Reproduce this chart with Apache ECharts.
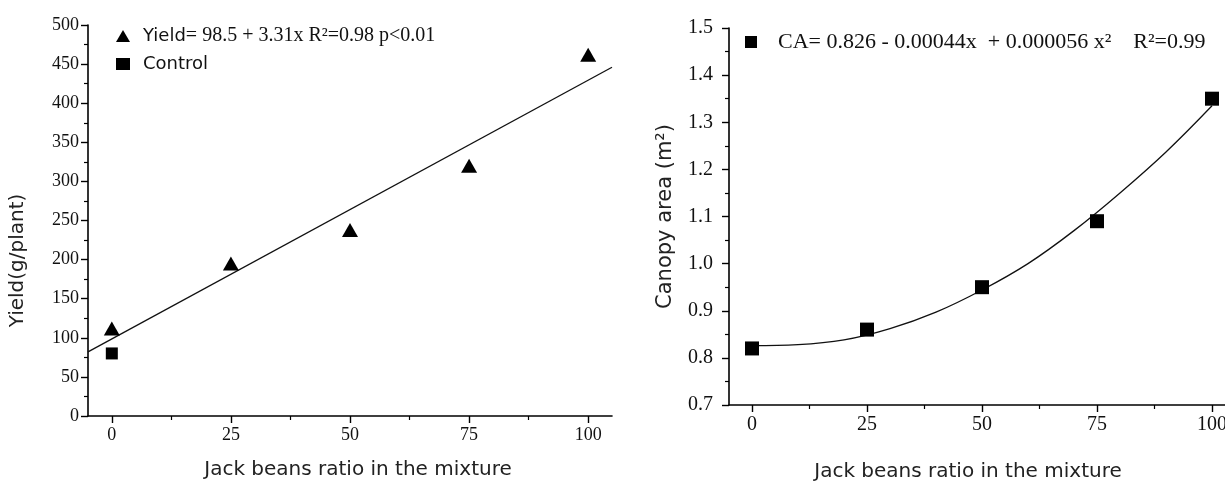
<!DOCTYPE html>
<html>
<head>
<meta charset="utf-8">
<script src="https://cdn.jsdelivr.net/npm/echarts@6/dist/echarts.min.js"></script>
<style>
  html, body { margin: 0; padding: 0; background: #fff; }
  #chart { width: 1225px; height: 482px; }
</style>
</head>
<body>
<div id="chart"></div>
<script>
// jack bean ratio (%)
var ratio = [0, 25, 50, 75, 100];
var xTicks = [0, 25, 50, 75, 100];
var xMinorTicks = [12.5, 37.5, 62.5, 87.5];

// left panel: yield (g/plant)
var yieldVals = [112, 195, 238, 320, 462];
var controlVals = [80];
var yieldFitX = [-5, 105];
var yieldFitY = [82, 446];

// right panel: canopy area (m2)
var canopyVals = [0.82, 0.86, 0.95, 1.09, 1.35];
var canopyFitX = [0, 10, 20, 30, 40, 50, 60, 70, 80, 90, 100];
var canopyFitY = [0.826, 0.828, 0.838, 0.862, 0.897, 0.944, 1.0, 1.07, 1.15, 1.237, 1.335];

var yieldName = 'Yield= 98.5 + 3.31x R\u00b2=0.98 p<0.01';
var controlName = 'Control';
var canopyName = 'CA= 0.826 - 0.00044x  + 0.000056 x\u00b2    R\u00b2=0.99';

function pairs(xs, ys) {
    return xs.map(function (x, i) { return [x, ys[i]]; });
}

var sans = 'DejaVu Sans';
var serif = 'Liberation Serif';

function mainX(grid, gap, labelSize, pad) {
    return {
        type: 'value', gridIndex: grid, min: -5, max: 105, position: 'bottom',
        name: 'Jack beans ratio in the mixture', nameLocation: 'middle', nameGap: gap,
        nameTextStyle: { fontFamily: sans, fontSize: 20, color: '#222', padding: pad },
        axisLine: { show: true, onZero: false, lineStyle: { color: '#000', width: 1.6 } },
        axisTick: { show: true, length: 7, customValues: xTicks, lineStyle: { color: '#000', width: 1.4 } },
        axisLabel: { customValues: xTicks, fontFamily: serif, fontSize: labelSize, color: '#111', margin: 10 },
        splitLine: { show: false }
    };
}
function minorX(grid) {
    return {
        type: 'value', gridIndex: grid, min: -5, max: 105, position: 'bottom', offset: 0,
        axisLine: { show: false, onZero: false },
        axisTick: { show: true, length: 4, customValues: xMinorTicks, lineStyle: { color: '#000', width: 1.2 } },
        axisLabel: { show: false },
        splitLine: { show: false }
    };
}

var chart = echarts.init(document.getElementById('chart'));
chart.setOption({
    animation: false,
    backgroundColor: '#fff',
    grid: [
        { left: 88, top: 25, width: 524, height: 391, outerBoundsMode: 'none' },
        { left: 729, top: 28, width: 506, height: 377, outerBoundsMode: 'none' }
    ],
    legend: [
        {
            left: 111, top: 21, orient: 'vertical', itemWidth: 14, itemHeight: 12, itemGap: 9,
            data: [{ name: yieldName, icon: 'triangle' }, { name: controlName, icon: 'rect' }],
            formatter: function (n) {
                if (n === yieldName) return '{s|Yield}{t|= 98.5 + 3.31x R\u00b2=0.98 p<0.01}';
                return '{s|' + n + '}';
            },
            textStyle: {
                color: '#111', padding: [0, 0, 0, 8],
                rich: {
                    s: { fontFamily: sans, fontSize: 18, color: '#111' },
                    t: { fontFamily: serif, fontSize: 20, color: '#111' }
                }
            }
        },
        {
            left: 740, top: 26, itemWidth: 12, itemHeight: 12,
            data: [{ name: canopyName, icon: 'rect' }],
            textStyle: { fontFamily: serif, fontSize: 22, color: '#111', padding: [0, 0, 0, 16] }
        }
    ],
    xAxis: [mainX(0, 44, 18, [0, 0, 0, 16]), minorX(0), mainX(1, 57, 20, [0, 28, 0, 0]), minorX(1)],
    yAxis: [
        {
            type: 'value', gridIndex: 0, min: 0, max: 500, interval: 50, position: 'left',
            name: 'Yield(g/plant)', nameLocation: 'middle', nameGap: 60,
            nameTextStyle: { fontFamily: sans, fontSize: 20, color: '#222', padding: [0, 80, 0, 0] },
            axisLine: { show: true, onZero: false, lineStyle: { color: '#000', width: 1.6 } },
            axisTick: { show: true, length: 7, lineStyle: { color: '#000', width: 1.4 } },
            minorTick: { show: true, splitNumber: 2, length: 4, lineStyle: { color: '#000', width: 1.2 } },
            axisLabel: { fontFamily: serif, fontSize: 18, color: '#111', margin: 9 },
            splitLine: { show: false }
        },
        {
            type: 'value', gridIndex: 1, min: 0.7, max: 1.5, interval: 0.1, position: 'left',
            name: 'Canopy area (m\u00b2)', nameLocation: 'middle', nameGap: 53,
            nameTextStyle: { fontFamily: sans, fontSize: 21, color: '#222' },
            axisLine: { show: true, onZero: false, lineStyle: { color: '#000', width: 1.6 } },
            axisTick: { show: true, length: 7, lineStyle: { color: '#000', width: 1.4 } },
            minorTick: { show: true, splitNumber: 2, length: 4, lineStyle: { color: '#000', width: 1.2 } },
            axisLabel: {
                fontFamily: serif, fontSize: 20, color: '#111', margin: 16,
                formatter: function (v) { return v.toFixed(1); }
            },
            splitLine: { show: false }
        }
    ],
    series: [
        {
            name: 'yieldFit', type: 'line', xAxisIndex: 0, yAxisIndex: 0,
            data: pairs(yieldFitX, yieldFitY), symbol: 'none', silent: true,
            lineStyle: { color: '#111', width: 1.3 }, z: 2
        },
        {
            name: yieldName, type: 'scatter', xAxisIndex: 0, yAxisIndex: 0,
            data: pairs(ratio, yieldVals), symbol: 'triangle', symbolSize: [16, 14],
            itemStyle: { color: '#000', opacity: 1 }, z: 3
        },
        {
            name: controlName, type: 'scatter', xAxisIndex: 0, yAxisIndex: 0,
            data: pairs([0], controlVals), symbol: 'rect', symbolSize: 12,
            itemStyle: { color: '#000', opacity: 1 }, z: 3
        },
        {
            name: 'canopyFit', type: 'line', xAxisIndex: 2, yAxisIndex: 1,
            data: pairs(canopyFitX, canopyFitY), symbol: 'none', smooth: 0.4, silent: true,
            lineStyle: { color: '#111', width: 1.3 }, z: 2
        },
        {
            name: canopyName, type: 'scatter', xAxisIndex: 2, yAxisIndex: 1,
            data: pairs(ratio, canopyVals), symbol: 'rect', symbolSize: 14,
            itemStyle: { color: '#000', opacity: 1 }, z: 3
        }
    ]
});
</script>
</body>
</html>
